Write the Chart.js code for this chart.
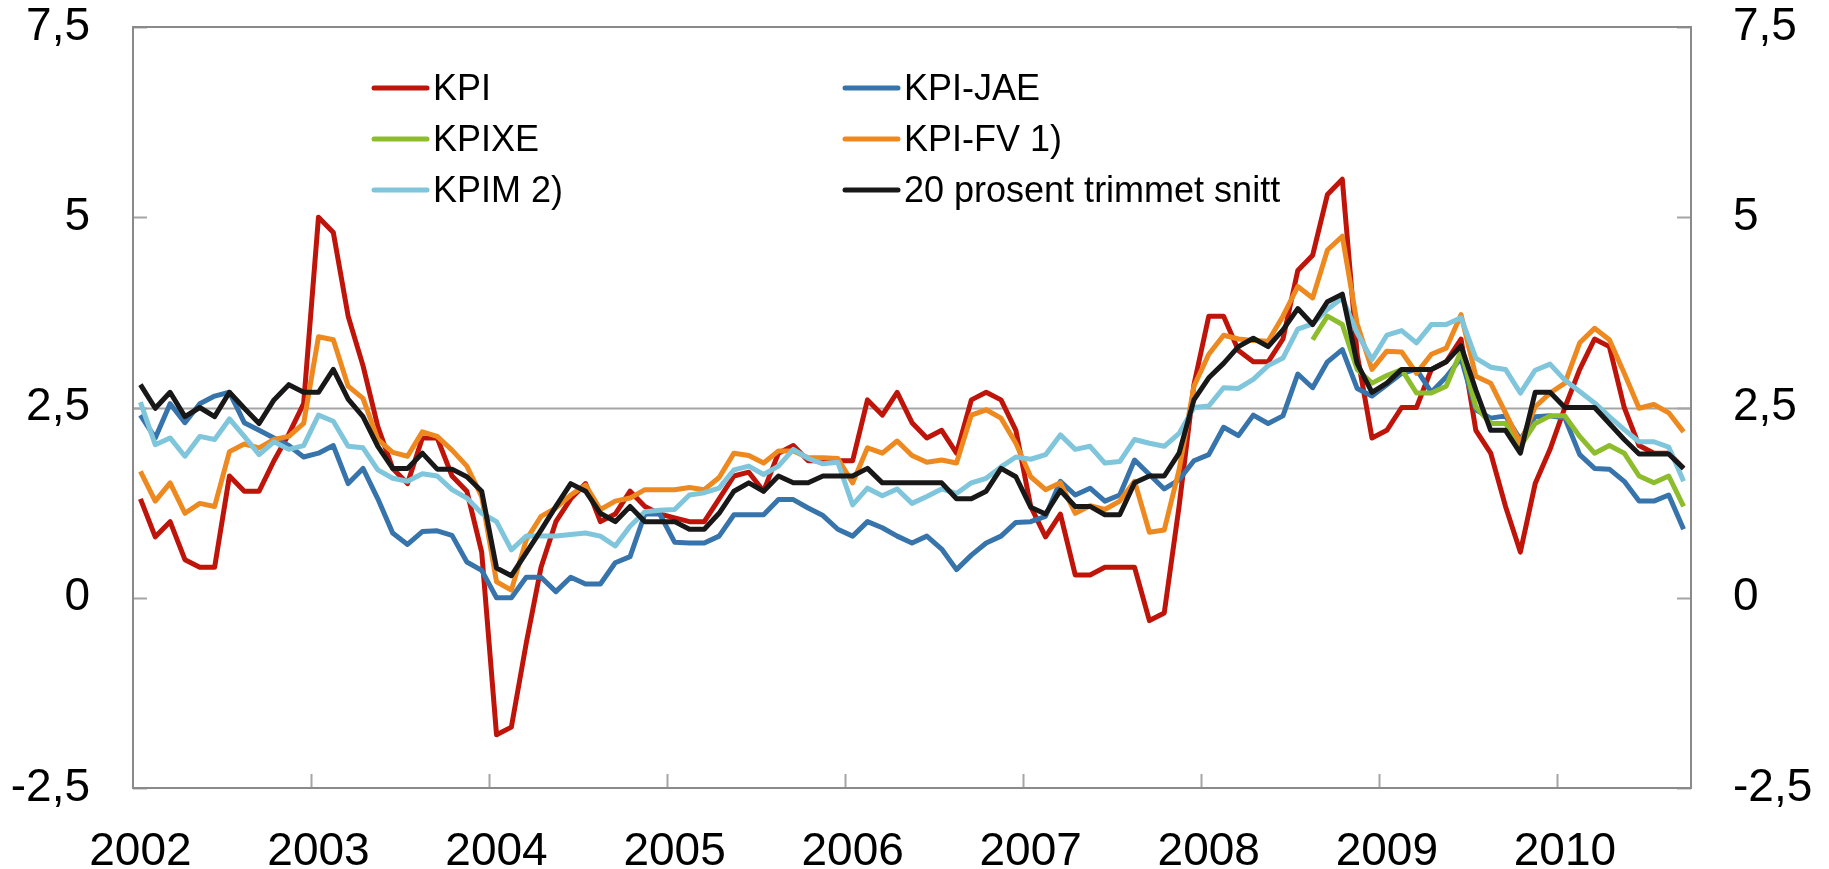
<!DOCTYPE html>
<html>
<head>
<meta charset="utf-8">
<script src="https://cdn.jsdelivr.net/npm/chart.js@4.4.0/dist/chart.umd.min.js"></script>
<style>
  html, body { margin: 0; padding: 0; background: #ffffff; }
  #wrap { width: 1829px; height: 869px; }
</style>
</head>
<body>
<div id="wrap"><canvas id="kpiChart" width="1829" height="869"></canvas></div>
<script>
// -------------------------    Data    -------------------------

// one category per month, Jan 2002 - Sep 2010
var years = [2002, 2003, 2004, 2005, 2006, 2007, 2008, 2009, 2010];
var lastMonth = 9; // data ends September 2010

var months = [];
years.forEach(function (y) {
    var n = (y === years[years.length - 1]) ? lastMonth : 12;
    for (var m = 1; m <= n; m++) {
        months.push(y + '-' + (m < 10 ? '0' + m : m));
    }
});

// y tick labels (both axes)
var yTicks = [-2.5, 0, 2.5, 5, 7.5];
var targetLine = 2.5;

var kpi = [
    1.3, 0.8, 1.0, 0.5, 0.4, 0.4, 1.6, 1.4, 1.4, 1.8, 2.15, 2.55,
    5.0, 4.8, 3.7, 3.05, 2.25, 1.7, 1.5, 2.1, 2.1, 1.6, 1.4, 0.6,
    -1.8, -1.7, -0.6, 0.4, 1.0, 1.3, 1.5, 1.0, 1.1, 1.4, 1.2, 1.1,
    1.05, 1.0, 1.0, 1.3, 1.6, 1.65, 1.4, 1.9, 2.0, 1.8, 1.8, 1.8,
    1.8, 2.6, 2.4, 2.7, 2.3, 2.1, 2.2, 1.9, 2.6, 2.7, 2.6, 2.2,
    1.2, 0.8, 1.1, 0.3, 0.3, 0.4, 0.4, 0.4, -0.3, -0.2, 1.2, 2.8,
    3.7, 3.7, 3.25, 3.1, 3.1, 3.4, 4.3, 4.5, 5.3, 5.5, 3.2, 2.1,
    2.2, 2.5, 2.5, 3.0, 3.1, 3.4, 2.2, 1.9, 1.2, 0.6, 1.5, 1.95,
    2.5, 3.0, 3.4, 3.3, 2.5, 2.0, 1.9, 1.9, 1.7
];

var kpiJae = [
    2.4, 2.1, 2.55, 2.3, 2.55, 2.65, 2.7, 2.3, 2.2, 2.1, 2.0, 1.85,
    1.9, 2.0, 1.5, 1.7, 1.3, 0.85, 0.7, 0.87, 0.88, 0.82, 0.47, 0.36,
    0.0, 0.0, 0.27, 0.27, 0.08, 0.27, 0.18, 0.18, 0.46, 0.54, 1.1, 1.1,
    0.73, 0.72, 0.72, 0.81, 1.09, 1.09, 1.09, 1.29, 1.29, 1.18, 1.08, 0.9,
    0.81, 1.0, 0.92, 0.81, 0.72, 0.81, 0.64, 0.37, 0.56, 0.72, 0.81, 0.99,
    1.0, 1.07, 1.53, 1.35, 1.44, 1.27, 1.35, 1.81, 1.62, 1.43, 1.55, 1.8,
    1.88, 2.24, 2.13, 2.4, 2.29, 2.39, 2.94, 2.76, 3.1, 3.26, 2.75, 2.65,
    2.8, 2.95, 3.0, 2.7, 2.9, 3.15, 2.47, 2.36, 2.39, 2.08, 2.38, 2.39,
    2.36, 1.88, 1.7, 1.69, 1.53, 1.27, 1.27, 1.35, 0.9
];

// KPIXE starts August 2008
var kpixe = [
    null, null, null, null, null, null, null, null, null, null, null, null,
    null, null, null, null, null, null, null, null, null, null, null, null,
    null, null, null, null, null, null, null, null, null, null, null, null,
    null, null, null, null, null, null, null, null, null, null, null, null,
    null, null, null, null, null, null, null, null, null, null, null, null,
    null, null, null, null, null, null, null, null, null, null, null, null,
    null, null, null, null, null, null, null, 3.39, 3.7, 3.59, 3.0, 2.82,
    2.92, 3.0, 2.69, 2.69, 2.78, 3.24, 2.51, 2.29, 2.29, 1.99, 2.29, 2.39,
    2.39, 2.12, 1.9, 2.0, 1.9, 1.6, 1.51, 1.6, 1.2
];

var kpiFv = [
    1.66, 1.27, 1.51, 1.11, 1.24, 1.2, 1.92, 2.02, 1.97, 2.08, 2.12, 2.29,
    3.43, 3.39, 2.78, 2.62, 2.08, 1.91, 1.86, 2.18, 2.12, 1.94, 1.73, 1.33,
    0.21, 0.1, 0.76, 1.07, 1.18, 1.35, 1.48, 1.16, 1.27, 1.31, 1.42, 1.42,
    1.42, 1.45, 1.42, 1.58, 1.9, 1.87, 1.77, 1.93, 1.93, 1.84, 1.84, 1.83,
    1.51, 1.97, 1.9, 2.06, 1.87, 1.78, 1.81, 1.77, 2.4, 2.47, 2.36, 2.03,
    1.59, 1.42, 1.51, 1.11, 1.21, 1.16, 1.27, 1.53, 0.86, 0.89, 1.68, 2.78,
    3.2, 3.45, 3.4, 3.38, 3.37, 3.7, 4.09, 3.94, 4.57, 4.75, 3.6, 3.0,
    3.24, 3.23, 2.95, 3.2, 3.28, 3.72, 2.91, 2.82, 2.43, 2.03, 2.51, 2.69,
    2.82, 3.35, 3.54, 3.39, 2.95, 2.49, 2.54, 2.43, 2.18
];

var kpim = [
    2.57, 2.01, 2.1, 1.86, 2.12, 2.08, 2.35, 2.12, 1.88, 2.05, 1.95, 2.0,
    2.4, 2.32, 1.99, 1.97, 1.68, 1.57, 1.53, 1.63, 1.6, 1.42, 1.31, 1.11,
    1.0, 0.63, 0.81, 0.81, 0.81, 0.83, 0.85, 0.81, 0.68, 0.94, 1.13, 1.15,
    1.16, 1.35, 1.38, 1.44, 1.68, 1.73, 1.62, 1.73, 1.95, 1.83, 1.76, 1.78,
    1.22, 1.44, 1.34, 1.43, 1.24, 1.33, 1.43, 1.37, 1.51, 1.57, 1.72, 1.85,
    1.82, 1.88, 2.14, 1.95, 1.99, 1.77, 1.79, 2.08, 2.03, 1.99, 2.16, 2.5,
    2.52, 2.76, 2.75, 2.87, 3.05, 3.15, 3.53, 3.6, 3.79, 3.94, 3.48, 3.13,
    3.45, 3.51, 3.35, 3.59, 3.59, 3.68, 3.15, 3.03, 3.0, 2.69, 2.99, 3.07,
    2.86, 2.71, 2.56, 2.38, 2.21, 2.05, 2.05, 1.98, 1.53
];

var trimmed = [
    2.8, 2.49, 2.7, 2.38, 2.5, 2.38, 2.7, 2.49, 2.29, 2.6, 2.8, 2.7,
    2.7, 3.0, 2.61, 2.38, 1.99, 1.7, 1.7, 1.9, 1.69, 1.69, 1.59, 1.4,
    0.39, 0.29, 0.59, 0.89, 1.2, 1.5, 1.4, 1.11, 1.0, 1.2, 1.0, 1.0,
    1.0, 0.9, 0.9, 1.11, 1.4, 1.51, 1.4, 1.6, 1.51, 1.51, 1.6, 1.6,
    1.6, 1.7, 1.51, 1.51, 1.51, 1.51, 1.51, 1.3, 1.3, 1.4, 1.7, 1.59,
    1.19, 1.1, 1.41, 1.2, 1.2, 1.09, 1.09, 1.51, 1.6, 1.6, 1.9, 2.6,
    2.89, 3.08, 3.3, 3.41, 3.3, 3.52, 3.8, 3.59, 3.89, 3.99, 3.08, 2.7,
    2.82, 3.0, 3.0, 3.0, 3.1, 3.31, 2.73, 2.2, 2.2, 1.9, 2.7, 2.7,
    2.5, 2.5, 2.5, 2.29, 2.08, 1.89, 1.89, 1.89, 1.7
];

var seriesNames = ['KPI', 'KPI-JAE', 'KPIXE', 'KPI-FV 1)', 'KPIM 2)', '20 prosent trimmet snitt'];
var seriesData = [kpi, kpiJae, kpixe, kpiFv, kpim, trimmed];
var seriesColors = ['#bf1409', '#3774ab', '#8dbd2d', '#ee891f', '#7fc5dc', '#181818'];


// -------------------------    Helpers    -------------------------

var FONT = "'Liberation Sans', Arial, sans-serif";

function fmt(v) {
    return String(v).replace('.', ',');
}

// axis frame, 2,5 line and the small inward tick marks
var frameDecor = {
    id: 'frameDecor',
    beforeDatasetsDraw: function (chart) {
        var ctx = chart.ctx, a = chart.chartArea;
        var y = chart.scales.y, x = chart.scales.x;
        var half = (a.right - a.left) / months.length / 2;

        ctx.save();
        ctx.lineWidth = 2;
        ctx.strokeStyle = '#a5a5a5';

        var yt = Math.round(y.getPixelForValue(targetLine)) + 0.5;
        ctx.beginPath();
        ctx.moveTo(a.left, yt);
        ctx.lineTo(a.right, yt);
        ctx.stroke();

        ctx.beginPath();
        yTicks.forEach(function (v) {
            var py = Math.round(y.getPixelForValue(v)) + 0.5;
            ctx.moveTo(a.left, py); ctx.lineTo(a.left + 14, py);
            ctx.moveTo(a.right, py); ctx.lineTo(a.right - 14, py);
        });
        for (var i = 12; i < months.length; i += 12) {
            var px = Math.round(x.getPixelForValue(i) - half) + 0.5;
            ctx.moveTo(px, a.bottom); ctx.lineTo(px, a.bottom - 14);
        }
        ctx.stroke();

        ctx.strokeStyle = '#8a8a8a';
        ctx.strokeRect(a.left, a.top, a.right - a.left, a.bottom - a.top);
        ctx.restore();
    }
};

// two-column legend inside the plot
var legendBox = {
    id: 'legendBox',
    afterDraw: function (chart, args, opts) {
        var ctx = chart.ctx, a = chart.chartArea;
        ctx.save();
        ctx.font = opts.fontSize + 'px ' + FONT;
        ctx.textBaseline = 'middle';
        ctx.lineCap = 'round';
        seriesNames.forEach(function (name, i) {
            var col = i % 2, row = Math.floor(i / 2);
            var lx = a.left + opts.colX[col];
            var ly = a.top + opts.rowY + row * opts.rowH;
            ctx.strokeStyle = seriesColors[i];
            ctx.lineWidth = 5;
            ctx.beginPath();
            ctx.moveTo(lx, ly);
            ctx.lineTo(lx + opts.swatch, ly);
            ctx.stroke();
            ctx.fillStyle = '#000000';
            ctx.fillText(name, lx + opts.swatch + 6, ly + 2);
        });
        ctx.restore();
    }
};


// -------------------------    Chart Setup    -------------------------

var datasets = seriesNames.map(function (name, i) {
    return {
        label: name,
        data: seriesData[i],
        borderColor: seriesColors[i],
        backgroundColor: seriesColors[i],
        borderWidth: 5,
        borderJoinStyle: 'round',
        pointRadius: 0,
        fill: false,
        tension: 0,
        spanGaps: false,
        order: seriesNames.length - i
    };
});

function yAxis(side, width, pad) {
    return {
        position: side,
        min: -2.5,
        max: 7.5,
        afterBuildTicks: function (scale) {
            scale.ticks = yTicks.map(function (v) { return { value: v }; });
        },
        afterFit: function (scale) {
            scale.width = width;
            scale.paddingTop = 27;
            scale.paddingBottom = 0;
        },
        grid: { display: false, drawTicks: false, tickLength: 0 },
        border: { display: false },
        ticks: {
            padding: pad,
            color: '#000000',
            font: { family: FONT, size: 46 },
            callback: function (v) { return fmt(v); }
        }
    };
}

var ctx = document.getElementById('kpiChart').getContext('2d');
var kpiChart = new Chart(ctx, {
    type: 'line',
    data: {
        labels: months,
        datasets: datasets
    },
    options: {
        responsive: false,
        animation: false,
        devicePixelRatio: 1,
        layout: { padding: 0 },
        plugins: {
            legend: { display: false },
            tooltip: { enabled: false },
            legendBox: { colX: [241, 712], rowY: 61, rowH: 51, swatch: 53, fontSize: 36 }
        },
        scales: {
            x: {
                type: 'category',
                offset: true,
                afterFit: function (scale) { scale.height = 81; },
                grid: { display: false, drawTicks: false, tickLength: 0 },
                border: { display: false },
                ticks: {
                    autoSkip: false,
                    maxRotation: 0,
                    minRotation: 0,
                    padding: 37,
                    color: '#000000',
                    font: { family: FONT, size: 46 },
                    callback: function (v, idx) {
                        return (idx % 12 === 0) ? months[idx].slice(0, 4) : '';
                    }
                }
            },
            y: yAxis('left', 133, 43),
            y2: yAxis('right', 138, 42)
        }
    },
    plugins: [frameDecor, legendBox]
});
</script>
</body>
</html>
